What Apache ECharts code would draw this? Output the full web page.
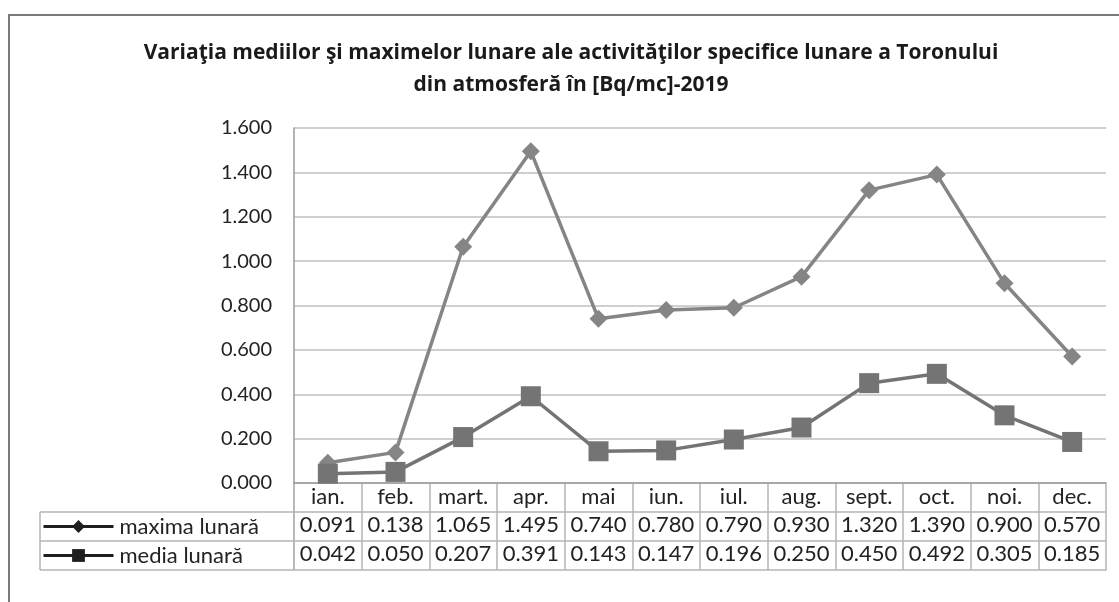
<!DOCTYPE html>
<html>
<head>
<meta charset="utf-8">
<title>Toron 2019</title>
<script src="https://cdn.jsdelivr.net/npm/echarts@6/dist/echarts.min.js"></script>
<style>
  html, body { margin: 0; padding: 0; background: #fff; }
  #chart { width: 1119px; height: 602px; }
</style>
</head>
<body>
<div id="chart"></div>
<script>
// Monthly categories and the two measured series (Bq/mc)
const months = ['ian.', 'feb.', 'mart.', 'apr.', 'mai', 'iun.', 'iul.', 'aug.', 'sept.', 'oct.', 'noi.', 'dec.'];
const maximaLunara = [0.091, 0.138, 1.065, 1.495, 0.740, 0.780, 0.790, 0.930, 1.320, 1.390, 0.900, 0.570];
const mediaLunara = [0.042, 0.050, 0.207, 0.391, 0.143, 0.147, 0.196, 0.250, 0.450, 0.492, 0.305, 0.185];
const seriesNames = ['maxima lunară', 'media lunară'];
const titleLines = [
  'Variaţia mediilor şi maximelor lunare ale activităţilor specifice lunare a Toronului',
  'din atmosferă în [Bq/mc]-2019'
];

// Layout of the plot and of the data table underneath it
const FONT = 'Lato, "Open Sans", sans-serif';
const plotLeft = 294, plotRight = 13, plotTop = 128, plotBottom = 483;
const rowH = 29;
const legendLeft = 40;
const gridColor = '#cfcfcf';
const tableLine = '#b5b5b5';
const textColor = '#222';

const fmt = v => v.toFixed(3);

const chart = echarts.init(document.getElementById('chart'), null, { renderer: 'canvas' });

// One grid per table row, sharing the horizontal extent of the plot
const rowTops = [plotBottom, plotBottom + rowH, plotBottom + 2 * rowH];
const rowLabels = [months, maximaLunara.map(fmt), mediaLunara.map(fmt)];

const grids = [{ left: plotLeft, right: plotRight, top: plotTop, height: plotBottom - plotTop }]
  .concat(rowTops.map(t => ({ left: plotLeft, right: plotRight, top: t, height: rowH })));

const xAxes = [{
  type: 'category', gridIndex: 0, data: months,
  axisLine: { show: true, lineStyle: { color: '#9a9a9a', width: 1.5 } },
  axisTick: { show: false }, axisLabel: { show: false }, splitLine: { show: false }
}].concat(rowLabels.map((labels, i) => ({
  type: 'category', gridIndex: i + 1, data: labels, position: 'bottom',
  axisLine: { show: true, lineStyle: { color: tableLine, width: 1.5 } },
  axisTick: { show: false },
  splitLine: { show: true, interval: 0, lineStyle: { color: tableLine, width: 1.5 } },
  axisLabel: {
    inside: true, interval: 0, margin: i === 0 ? 4 : 5, color: textColor,
    fontFamily: FONT, fontSize: 22
  }
})));

const yAxes = [{
  type: 'value', gridIndex: 0, min: 0, max: 1.6, interval: 0.2,
  axisLine: { show: true, lineStyle: { color: '#9a9a9a', width: 1.5 } },
  axisTick: { show: false },
  axisLabel: { formatter: v => fmt(v), color: textColor, fontFamily: FONT, fontSize: 20, margin: 22 },
  splitLine: { show: true, lineStyle: { color: gridColor, width: 2 } }
}].concat(rowTops.map((t, i) => ({ type: 'value', gridIndex: i + 1, show: false })));

// Legend entries sit in the left column of the two value rows
const legends = seriesNames.map((name, i) => ({
  data: [name], orient: 'horizontal', left: legendLeft + 2, top: rowTops[i + 1],
  padding: 0, itemWidth: 70, itemHeight: 16, itemGap: 0,
  textStyle: { color: textColor, fontFamily: FONT, fontSize: 22, lineHeight: rowH, padding: [0, 0, 0, 1] },
  lineStyle: { color: '#1e1e1e', width: 3 },
  itemStyle: { color: '#1e1e1e' },
  selectedMode: false
}));

// Borders around the legend column of the table
const colRight = plotLeft;
const tableGraphics = [
  { type: 'line', shape: { x1: legendLeft, y1: rowTops[1], x2: colRight, y2: rowTops[1] } },
  { type: 'line', shape: { x1: legendLeft, y1: rowTops[2], x2: colRight, y2: rowTops[2] } },
  { type: 'line', shape: { x1: legendLeft, y1: rowTops[2] + rowH, x2: colRight, y2: rowTops[2] + rowH } },
  { type: 'line', shape: { x1: legendLeft, y1: rowTops[1], x2: legendLeft, y2: rowTops[2] + rowH } },
  { type: 'line', shape: { x1: plotLeft, y1: rowTops[0], x2: plotLeft, y2: rowTops[2] + rowH } }
].map(g => Object.assign(g, { style: { stroke: tableLine, lineWidth: 1.5 }, silent: true }));

chart.setOption({
  animation: false,
  backgroundColor: '#fff',
  title: {
    text: titleLines.join('\n'),
    left: 566, top: 32, textAlign: 'center',
    textStyle: { fontFamily: '"Open Sans", Lato, sans-serif', fontWeight: 'bold', fontSize: 21, lineHeight: 32, color: '#1a1a1a' }
  },
  grid: grids,
  xAxis: xAxes,
  yAxis: yAxes,
  legend: legends,
  graphic: [
    // outer chart frame
    { type: 'rect', shape: { x: 9, y: 15, width: 1300, height: 800 },
      style: { fill: 'none', stroke: '#7a7a7a', lineWidth: 2 }, silent: true }
  ].concat(tableGraphics),
  series: [
    {
      name: seriesNames[0], type: 'line', xAxisIndex: 0, yAxisIndex: 0, data: maximaLunara,
      symbol: 'diamond', symbolSize: 18,
      itemStyle: { color: '#858585' }, lineStyle: { color: '#858585', width: 3.5 }
    },
    {
      name: seriesNames[1], type: 'line', xAxisIndex: 0, yAxisIndex: 0, data: mediaLunara,
      symbol: 'rect', symbolSize: 20,
      itemStyle: { color: '#747474' }, lineStyle: { color: '#747474', width: 3.5 }
    }
  ]
});
</script>
</body>
</html>
